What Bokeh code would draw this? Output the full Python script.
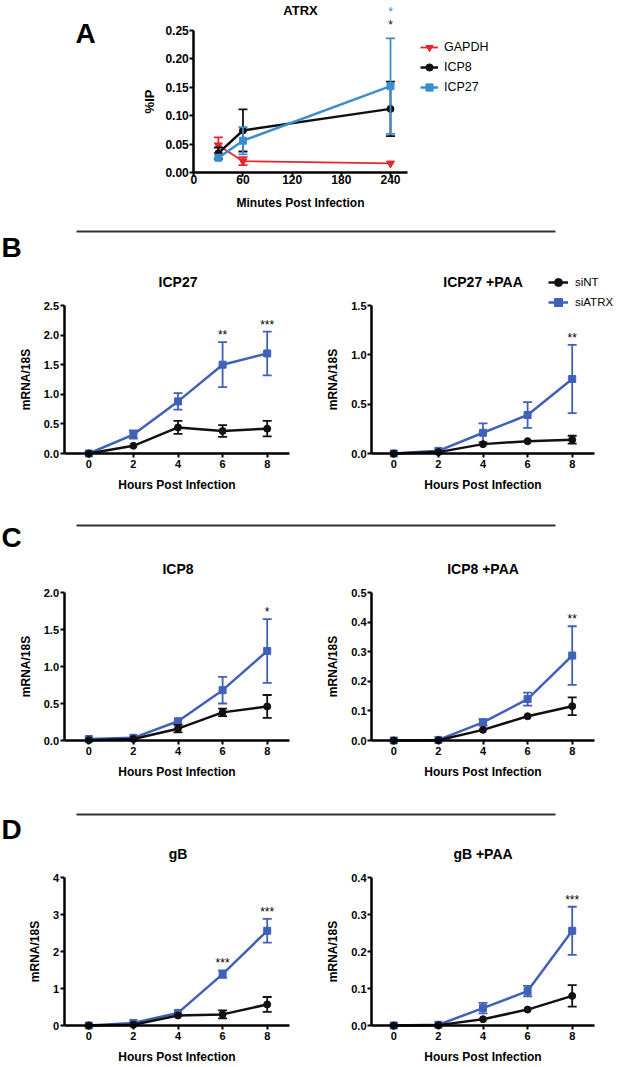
from bokeh.plotting import figure
from bokeh.models import Range1d, FixedTicker, NumeralTickFormatter, Legend, LegendItem
from bokeh.layouts import column, row
from bokeh.embed import file_html
from bokeh.resources import INLINE
from bokeh.core.properties import value

FONT = "Liberation Sans"
BLUE = "#3f61b8"
LBLUE = "#3a8ecf"
RED = "#e5262b"
BLACK = "#111111"

# ---------------- Panel A data (ATRX ChIP) ----------------
minutes = [30, 60, 240]
gapdh = [0.048, 0.020, 0.016]
gapdh_err = [0.014, 0.007, 0.001]
icp8_ip = [0.034, 0.074, 0.112]
icp8_ip_err = [0.010, 0.037, 0.048]
icp27_ip = [0.026, 0.056, 0.152]
icp27_ip_err = [0.004, 0.024, 0.084]
minute_ticks = [0, 60, 120, 180, 240]
ip_ticks = [0.0, 0.05, 0.10, 0.15, 0.20, 0.25]

# ---------------- Panels B-D data (RT-qPCR) ----------------
hours = [0, 2, 4, 6, 8]

icp27_sint = [0.0, 0.13, 0.44, 0.38, 0.42]
icp27_sint_err = [0.0, 0.01, 0.11, 0.10, 0.13]
icp27_siatrx = [0.0, 0.32, 0.88, 1.50, 1.69]
icp27_siatrx_err = [0.0, 0.07, 0.14, 0.38, 0.37]
icp27_stars = ["", "", "", "**", "***"]

icp27paa_sint = [0.0, 0.014, 0.095, 0.125, 0.14]
icp27paa_sint_err = [0.0, 0.005, 0.01, 0.01, 0.04]
icp27paa_siatrx = [0.0, 0.027, 0.21, 0.39, 0.755]
icp27paa_siatrx_err = [0.0, 0.01, 0.095, 0.13, 0.345]
icp27paa_stars = ["", "", "", "", "**"]

icp8_sint = [0.005, 0.02, 0.16, 0.38, 0.46]
icp8_sint_err = [0.0, 0.01, 0.05, 0.05, 0.155]
icp8_siatrx = [0.02, 0.036, 0.26, 0.68, 1.21]
icp8_siatrx_err = [0.01, 0.01, 0.02, 0.18, 0.43]
icp8_stars = ["", "", "", "", "*"]

icp8paa_sint = [0.0, 0.001, 0.036, 0.082, 0.116]
icp8paa_sint_err = [0.0, 0.001, 0.007, 0.007, 0.03]
icp8paa_siatrx = [0.0, 0.002, 0.061, 0.14, 0.287]
icp8paa_siatrx_err = [0.0, 0.001, 0.011, 0.022, 0.099]
icp8paa_stars = ["", "", "", "", "**"]

gb_sint = [0.0, 0.02, 0.27, 0.30, 0.57]
gb_sint_err = [0.0, 0.01, 0.07, 0.11, 0.20]
gb_siatrx = [0.0, 0.07, 0.34, 1.39, 2.56]
gb_siatrx_err = [0.0, 0.02, 0.03, 0.10, 0.32]
gb_stars = ["", "", "", "***", "***"]

gbpaa_sint = [0.0, 0.001, 0.017, 0.043, 0.080]
gbpaa_sint_err = [0.0, 0.001, 0.002, 0.008, 0.029]
gbpaa_siatrx = [0.0, 0.002, 0.047, 0.093, 0.256]
gbpaa_siatrx_err = [0.0, 0.001, 0.014, 0.014, 0.065]
gbpaa_stars = ["", "", "", "", "***"]

PAGE_W = 616


def lin(v0, p0, v1, p1):
    s = (v1 - v0) / (p1 - p0)
    return lambda p: v0 + (p - p0) * s


def base_fig(X0, Y0, W, H, xf, yf):
    p = figure(width=W, height=H, min_border=0,
               x_range=Range1d(xf(X0), xf(X0 + W)),
               y_range=Range1d(yf(Y0 + H), yf(Y0)),
               output_backend="svg", toolbar_location=None, title_location=None)
    p.outline_line_color = None
    p.grid.visible = False
    p.background_fill_color = "white"
    p.border_fill_color = "white"
    return p


def style_axis(ax, ticks, fmt, label, bounds, loc, tick_fs, major_standoff, label_standoff, label_fs="12px"):
    ax.fixed_location = loc
    ax.bounds = bounds
    ax.ticker = FixedTicker(ticks=ticks)
    if fmt:
        ax.formatter = NumeralTickFormatter(format=fmt)
    ax.axis_label = label
    ax.axis_line_width = 2.5
    ax.axis_line_color = "black"
    ax.major_tick_line_width = 2
    ax.major_tick_line_color = "black"
    ax.major_tick_in = 0
    ax.major_tick_out = 4
    ax.minor_tick_line_color = None
    ax.major_label_text_font = FONT
    ax.major_label_text_font_style = "bold"
    ax.major_label_text_font_size = tick_fs
    ax.major_label_text_color = "black"
    ax.major_label_standoff = major_standoff
    ax.axis_label_text_font = FONT
    ax.axis_label_text_font_style = "bold"
    ax.axis_label_text_font_size = label_fs
    ax.axis_label_text_color = "black"
    ax.axis_label_standoff = label_standoff


def draw_series(p, x, y, err, color, marker, size, lw, min_err):
    lo = [a - e for a, e in zip(y, err)]
    hi = [a + e for a, e in zip(y, err)]
    p.segment(x0=x, y0=lo, x1=x, y1=hi, line_color=color, line_width=1.8)
    cx = [a for a, e in zip(x, err) if e > min_err]
    ch = [h for h, e in zip(hi, err) if e > min_err]
    cl = [l for l, e in zip(lo, err) if e > min_err]
    p.scatter(x=cx + cx, y=ch + cl, marker="dash", size=9, line_color=color, line_width=1.8)
    lr = p.line(x=x, y=y, line_color=color, line_width=lw)
    sr = p.scatter(x=x, y=y, marker=marker, size=size, fill_color=color, line_color=color)
    return lr, sr


def text(p, x, y, t, size, style="bold", align="center", baseline="middle", color="black", yoff=0):
    p.text(x=x, y=y, text=t, text_font=value(FONT), text_font_size=size,
           text_font_style=style, text_align=align, text_baseline=baseline,
           text_color=color, y_offset=yoff)


# ---------------- Panel A ----------------
xfA = lin(0, 193.3, 240, 390)
yfA = lin(0, 172, 0.25, 30)
pA = base_fig(0, 0, PAGE_W, 220, xfA, yfA)
style_axis(pA.xaxis[0], minute_ticks, None, "Minutes Post Infection", (0, 261), 0, "12px", -2, 9)
style_axis(pA.yaxis[0], ip_ticks, "0.00", "%IP", (0, 0.25), 0, "12px", 1, 5, "13px")

gr = draw_series(pA, minutes, gapdh, gapdh_err, RED, "inverted_triangle", 8, 1.8, 0.004)
kr = draw_series(pA, minutes, icp8_ip, icp8_ip_err, BLACK, "circle", 7, 2.5, 0.004)
br = draw_series(pA, minutes, icp27_ip, icp27_ip_err, LBLUE, "square", 7, 2.5, 0.004)

topA = max(icp27_ip[-1] + icp27_ip_err[-1], icp8_ip[-1] + icp8_ip_err[-1])
text(pA, [minutes[-1]], [topA], ["*"], "12px", style="normal", baseline="alphabetic", color=BLACK, yoff=-13)
text(pA, [minutes[-1]], [topA], ["*"], "12px", style="normal", baseline="alphabetic", color=LBLUE, yoff=-26)
text(pA, [xfA(300)], [yfA(10)], ["ATRX"], "13px")
text(pA, [xfA(75)], [yfA(33)], ["A"], "28px", align="left")

legA = Legend(items=[LegendItem(label="GAPDH", renderers=list(gr)),
                     LegendItem(label="ICP8", renderers=list(kr)),
                     LegendItem(label="ICP27", renderers=list(br))],
              location=(420, 123), orientation="vertical", spacing=0, padding=0, margin=0,
              glyph_width=18, glyph_height=20, label_height=20, label_standoff=6,
              label_text_font=FONT, label_text_font_size="12.5px", label_text_color="black",
              border_line_color=None, background_fill_alpha=0)
pA.add_layout(legA)


# ---------------- strips with rules and panel letters ----------------
def strip(Y0, H, rule_y, letter, letter_y):
    s = figure(width=PAGE_W, height=H, min_border=0, x_range=Range1d(0, PAGE_W),
               y_range=Range1d(Y0 + H, Y0), x_axis_type=None, y_axis_type=None,
               output_backend="svg", toolbar_location=None, title_location=None)
    s.outline_line_color = None
    s.grid.visible = False
    s.segment(x0=[76], y0=[rule_y], x1=[555], y1=[rule_y], line_color="#333333", line_width=2)
    text(s, [1], [letter_y], [letter], "28px", align="left")
    return s


# ---------------- rows B-D ----------------
def panel(side, T, H, top, ticks, fmt, title, sint, sint_err, siatrx, siatrx_err, stars, legend=False):
    if side == "L":
        X0, W = 0, 308
        xf = lin(0, 88.3, 8, 266.7)
        ax0 = xf(63.5)
    else:
        X0, W = 308, PAGE_W - 308
        xf = lin(0, 393.3, 8, 571.7)
        ax0 = xf(371)
    Y0 = T - 9
    yf = lin(0, T + 172, top, T + 24)
    p = base_fig(X0, Y0, W, H, xf, yf)
    style_axis(p.xaxis[0], hours, None, "Hours Post Infection", (ax0, 9.0), 0, "11px", 2, 7)
    style_axis(p.yaxis[0], ticks, fmt, "mRNA/18S", (0, top), ax0, "11px", 1, 8)
    thr = top * 0.02
    br = draw_series(p, hours, siatrx, siatrx_err, BLUE, "square", 7, 2.5, thr)
    kr = draw_series(p, hours, sint, sint_err, BLACK, "circle", 7, 2.5, thr)
    sx, sy, st = [], [], []
    for h, a, ea, b, eb, s in zip(hours, sint, sint_err, siatrx, siatrx_err, stars):
        if s:
            sx.append(h)
            sy.append(max(a + ea, b + eb))
            st.append(s)
    text(p, sx, sy, st, "12px", style="normal", baseline="alphabetic", yoff=-7)
    text(p, [4], [yf(T)], [title], "14px")
    if legend:
        leg = Legend(items=[LegendItem(label="siNT", renderers=list(kr)),
                            LegendItem(label="siATRX", renderers=list(br))],
                     location=(240, H - 40), orientation="vertical", spacing=0, padding=0, margin=0,
                     glyph_width=20, glyph_height=20, label_height=20, label_standoff=7,
                     label_text_font=FONT, label_text_font_size="11.5px", label_text_color="black",
                     border_line_color=None, background_fill_alpha=0)
        p.add_layout(leg)
    return p


sB = strip(220, 52, 231, "B", 247)
B1 = panel("L", 281, 222, 2.5, [0, 0.5, 1.0, 1.5, 2.0, 2.5], "0.0", "ICP27",
           icp27_sint, icp27_sint_err, icp27_siatrx, icp27_siatrx_err, icp27_stars)
B2 = panel("R", 281, 222, 1.5, [0, 0.5, 1.0, 1.5], "0.0", "ICP27 +PAA",
           icp27paa_sint, icp27paa_sint_err, icp27paa_siatrx, icp27paa_siatrx_err, icp27paa_stars, legend=True)

sC = strip(494, 65, 525, "C", 537)
C1 = panel("L", 568, 222, 2.0, [0, 0.5, 1.0, 1.5, 2.0], "0.0", "ICP8",
           icp8_sint, icp8_sint_err, icp8_siatrx, icp8_siatrx_err, icp8_stars)
C2 = panel("R", 568, 222, 0.5, [0, 0.1, 0.2, 0.3, 0.4, 0.5], "0.0", "ICP8 +PAA",
           icp8paa_sint, icp8paa_sint_err, icp8paa_siatrx, icp8paa_siatrx_err, icp8paa_stars)

sD = strip(781, 63, 814, "D", 829)
D1 = panel("L", 853, 218, 4, [0, 1, 2, 3, 4], "0", "gB",
           gb_sint, gb_sint_err, gb_siatrx, gb_siatrx_err, gb_stars)
D2 = panel("R", 853, 218, 0.4, [0, 0.1, 0.2, 0.3, 0.4], "0.0", "gB +PAA",
           gbpaa_sint, gbpaa_sint_err, gbpaa_siatrx, gbpaa_siatrx_err, gbpaa_stars)

layout = column(pA, sB, row(B1, B2), sC, row(C1, C2), sD, row(D1, D2))

with open("out.html", "w") as f:
    f.write(file_html(layout, INLINE))
